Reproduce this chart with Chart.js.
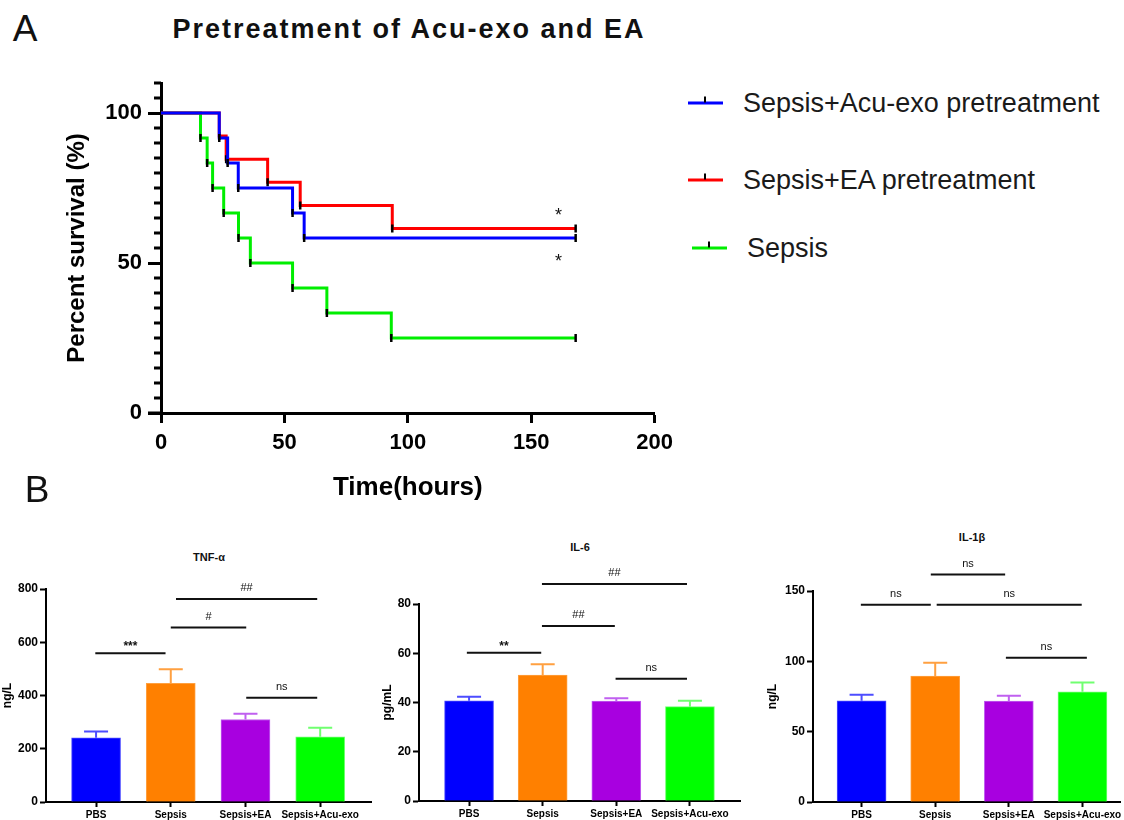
<!DOCTYPE html>
<html lang="en">
<head>
  <meta charset="UTF-8">
  <title>Pretreatment of Acu-exo and EA</title>
  <script src="https://cdn.jsdelivr.net/npm/chart.js"></script>
  <style>
    body { margin: 0; background: #fff; font-family: "Liberation Sans", Arial, sans-serif; }
    #page { position: relative; width: 1124px; height: 820px; overflow: hidden; }
    .box { position: absolute; }
    .mid { position: absolute; transform: translate(-50%, -50%); white-space: nowrap; }
    .panel { font-size: 37px; color: #111; }
    .head { font-size: 27px; letter-spacing: 2px; font-weight: bold; color: #111; }
    .sub { font-size: 11px; font-weight: bold; color: #111; }
    .leg { position: absolute; display: flex; align-items: center; font-size: 27px; color: #1a1a1a; white-space: nowrap; transform: translateY(-50%); }
    .leg .swatch { position: relative; display: inline-block; width: 35px; height: 3px; margin-right: 20px; }
    .leg .swatch::after { content: ""; position: absolute; left: 16px; top: -5px; width: 2px; height: 6px; background: #000; }
  </style>
</head>
<body>
<div id="page">
  <div class="mid panel" style="left:25px; top:29px;">A</div>
  <div class="mid head" style="left:409px; top:29px;">Pretreatment of Acu-exo and EA</div>
  <div class="box" style="left:0; top:0;"><canvas id="kmChart" width="680" height="503"></canvas></div>
  <div id="kmLegend"></div>

  <div class="mid panel" style="left:37px; top:490px;">B</div>
  <div class="mid sub" style="left:209px; top:557px;">TNF-α</div>
  <div class="mid sub" style="left:580px; top:547px;">IL-6</div>
  <div class="mid sub" style="left:972px; top:537px;">IL-1β</div>
  <div class="box" style="left:0; top:530px;"><canvas id="tnfChart" width="380" height="290"></canvas></div>
  <div class="box" style="left:380px; top:530px;"><canvas id="il6Chart" width="370" height="290"></canvas></div>
  <div class="box" style="left:750px; top:520px;"><canvas id="il1bChart" width="374" height="300"></canvas></div>
</div>

<script>
  // ---- A: survival (Kaplan-Meier) ----
  const survivalLabels = ['Sepsis+Acu-exo pretreatment', 'Sepsis+EA pretreatment', 'Sepsis'];
  const acuHours = [0, 23.6, 27.0, 31.3, 53.3, 58.0, 168];
  const acuSurvival = [100, 91.7, 83.3, 75.0, 66.7, 58.3, 58.3];
  const eaHours = [0, 23.6, 26.4, 43.2, 56.4, 93.7, 168];
  const eaSurvival = [100, 92.3, 84.6, 76.9, 69.2, 61.5, 61.5];
  const sepsisHours = [0, 16.0, 18.7, 20.9, 25.4, 31.4, 36.2, 53.3, 67.2, 93.3, 168];
  const sepsisSurvival = [100, 91.7, 83.3, 75.0, 66.7, 58.3, 50.0, 41.7, 33.3, 25.0, 25.0];
  const yMajorTicks = [0, 50, 100];
  // significance stars (hours, percent)
  const starMarks = [[161, 67.4], [161, 52.1]];

  // ---- B: cytokines ----
  const groupNames = ['PBS', 'Sepsis', 'Sepsis+EA', 'Sepsis+Acu-exo'];
  const tnfMean = [241, 446, 310, 245];
  const tnfErr = [24, 53, 21, 34];
  const il6Mean = [40.7, 51.1, 40.6, 38.3];
  const il6Err = [1.6, 4.4, 1.1, 2.4];
  const il1bMean = [71.9, 89.5, 71.7, 78.3];
  const il1bErr = [4.3, 9.5, 3.8, 6.7];
  // [from group, to group, level, label]
  const tnfBrackets = [[-0.01, 0.93, 559, '***'], [1.0, 2.01, 655, '#'], [1.07, 2.96, 762, '##'], [2.01, 2.96, 392, 'ns']];
  const il6Brackets = [[-0.03, 0.98, 60.2, '**'], [0.99, 1.98, 71.1, '##'], [0.99, 2.96, 88.1, '##'], [1.99, 2.96, 49.6, 'ns']];
  const il1bBrackets = [[-0.01, 0.94, 140.3, 'ns'], [0.94, 1.95, 161.7, 'ns'], [1.02, 2.99, 140.3, 'ns'], [1.96, 3.06, 102.5, 'ns']];

  const lineColors = ['#0000ff', '#ff0000', '#00ee00'];
  const barColors = ['#0000ff', '#ff8000', '#a800e0', '#00ff00'];
  const errColors = ['#4d4dff', '#ffa040', '#c060f0', '#70ff70'];

  Chart.defaults.font.family = '"Liberation Sans", Arial, sans-serif';
  Chart.defaults.color = '#000';

  // minor ticks, x axis stub and the stars
  const kmExtras = {
    id: 'kmExtras',
    afterDraw(chart) {
      const { ctx, scales: { x, y } } = chart;
      ctx.save();
      ctx.strokeStyle = '#000';
      ctx.lineWidth = 3;
      ctx.beginPath();
      for (let v = 5; v <= 110; v += 5) {
        if (yMajorTicks.includes(v)) continue;
        const py = y.getPixelForValue(v);
        ctx.moveTo(x.left - 7, py);
        ctx.lineTo(x.left, py);
      }
      const y0 = y.getPixelForValue(0);
      ctx.moveTo(x.left - 13, y0);
      ctx.lineTo(x.left, y0);
      ctx.stroke();
      ctx.fillStyle = '#111';
      ctx.font = '18px "Liberation Sans", Arial, sans-serif';
      ctx.textAlign = 'center';
      ctx.textBaseline = 'alphabetic';
      starMarks.forEach(([h, p]) => {
        ctx.fillText('*', x.getPixelForValue(h), y.getPixelForValue(p) + 10);
      });
      ctx.restore();
    }
  };

  const series = [
    [acuHours, acuSurvival],
    [eaHours, eaSurvival],
    [sepsisHours, sepsisSurvival]
  ];

  new Chart(document.getElementById('kmChart'), {
    type: 'line',
    data: {
      datasets: series.map(([hours, surv], k) => ({
        label: survivalLabels[k],
        data: hours.map((h, i) => ({ x: h, y: surv[i] })),
        borderColor: lineColors[k],
        borderWidth: 3,
        stepped: 'before',
        fill: false,
        pointStyle: 'line',
        rotation: 90,
        pointRadius: c => c.dataIndex === 0 ? 0 : 4,
        pointBorderColor: '#000',
        pointBorderWidth: 2.5
      }))
    },
    options: {
      responsive: false,
      animation: false,
      events: [],
      layout: { padding: { left: 63, top: 83, right: 23, bottom: 0 } },
      plugins: { legend: { display: false }, tooltip: { enabled: false } },
      scales: {
        x: {
          type: 'linear', min: 0, max: 200,
          ticks: { stepSize: 50, padding: 7, font: { size: 22, weight: 'bold' } },
          grid: { drawOnChartArea: false, tickLength: 10, tickWidth: 3, tickColor: '#000' },
          border: { color: '#000', width: 3 },
          title: { display: true, text: 'Time(hours)', padding: 0, font: { size: 26, weight: 'bold' } },
          afterFit: s => { s.height = 90; }
        },
        y: {
          min: 0, max: 110,
          afterBuildTicks: s => { s.ticks = yMajorTicks.map(v => ({ value: v })); },
          ticks: { padding: 6, font: { size: 22, weight: 'bold' } },
          grid: { drawOnChartArea: false, tickLength: 13, tickWidth: 3, tickColor: '#000' },
          border: { color: '#000', width: 3 },
          title: { display: true, text: 'Percent survival (%)', padding: 0, font: { size: 24, weight: 'bold' } },
          afterFit: s => { s.width = 98; }
        }
      }
    },
    plugins: [kmExtras]
  });

  // html legend
  const legendSpots = [[688, 103], [688, 180], [692, 248]];
  const legendBox = document.getElementById('kmLegend');
  survivalLabels.forEach((lab, k) => {
    const d = document.createElement('div');
    d.className = 'leg';
    d.style.left = legendSpots[k][0] + 'px';
    d.style.top = legendSpots[k][1] + 'px';
    d.innerHTML = '<span class="swatch" style="background:' + lineColors[k] + '"></span>' + lab;
    legendBox.appendChild(d);
  });

  // ---- bar charts ----
  const errorBars = {
    id: 'errorBars',
    afterDatasetsDraw(chart) {
      const { ctx, scales: { y } } = chart;
      const ds = chart.data.datasets[0];
      chart.getDatasetMeta(0).data.forEach((bar, i) => {
        const top = y.getPixelForValue(ds.data[i].y + ds.errors[i]);
        ctx.save();
        ctx.strokeStyle = errColors[i];
        ctx.lineWidth = 2;
        ctx.beginPath();
        ctx.moveTo(bar.x, bar.y);
        ctx.lineTo(bar.x, top);
        ctx.moveTo(bar.x - 12, top);
        ctx.lineTo(bar.x + 12, top);
        ctx.stroke();
        ctx.restore();
      });
    }
  };

  const brackets = {
    id: 'brackets',
    afterDraw(chart) {
      const { ctx, scales: { x, y } } = chart;
      ctx.save();
      ctx.strokeStyle = '#111';
      ctx.fillStyle = '#111';
      ctx.lineWidth = 2;
      ctx.textAlign = 'center';
      ctx.textBaseline = 'alphabetic';
      chart.data.datasets[0].brackets.forEach(([a, b, lvl, lab]) => {
        const x1 = x.getPixelForValue(a), x2 = x.getPixelForValue(b), py = y.getPixelForValue(lvl);
        ctx.beginPath();
        ctx.moveTo(x1, py);
        ctx.lineTo(x2, py);
        ctx.stroke();
        const star = lab.includes('*');
        ctx.font = (star ? 'bold 12px ' : '11px ') + '"Liberation Sans", Arial, sans-serif';
        ctx.fillText(lab, (x1 + x2) / 2, py - (star ? 3 : 8));
      });
      ctx.restore();
    }
  };

  function barChart(id, means, errs, marks, cfg) {
    return new Chart(document.getElementById(id), {
      type: 'bar',
      data: {
        datasets: [{
          data: means.map((v, i) => ({ x: i, y: v })),
          errors: errs,
          brackets: marks,
          backgroundColor: barColors,
          borderColor: errColors,
          borderWidth: 1,
          barThickness: 49
        }]
      },
      options: {
        responsive: false,
        animation: false,
        events: [],
        layout: { padding: cfg.pad },
        plugins: { legend: { display: false }, tooltip: { enabled: false } },
        scales: {
          x: {
            type: 'linear', min: cfg.xMin, max: cfg.xMax, offset: false,
            afterBuildTicks: s => { s.ticks = groupNames.map((g, i) => ({ value: i })); },
            ticks: { autoSkip: false, maxRotation: 0, minRotation: 0, padding: 2, font: { size: 10, weight: 'bold' }, callback: v => groupNames[v] },
            grid: { offset: false, drawOnChartArea: false, tickLength: 5, tickWidth: 2, tickColor: '#000' },
            border: { color: '#000', width: 2 },
            afterFit: s => { s.height = cfg.xH; }
          },
          y: {
            min: 0, max: cfg.yMax,
            ticks: { stepSize: cfg.step, padding: 2, font: { size: 12, weight: 'bold' } },
            grid: { drawOnChartArea: false, tickLength: 6, tickWidth: 2, tickColor: '#000' },
            border: { color: '#000', width: 2 },
            title: { display: true, text: cfg.unit, padding: 0, font: { size: 12, weight: 'bold' } },
            afterFit: s => { s.width = cfg.yW; }
          }
        }
      },
      plugins: [errorBars, brackets]
    });
  }

  barChart('tnfChart', tnfMean, tnfErr, tnfBrackets,
    { unit: 'ng/L', yMax: 800, step: 200, xMin: -0.67, xMax: 3.68, yW: 46, xH: 18, pad: { left: 0, top: 59, right: 9, bottom: 0 } });
  barChart('il6Chart', il6Mean, il6Err, il6Brackets,
    { unit: 'pg/mL', yMax: 80, step: 20, xMin: -0.68, xMax: 3.68, yW: 39, xH: 19, pad: { left: 0, top: 74, right: 10, bottom: 0 } });
  barChart('il1bChart', il1bMean, il1bErr, il1bBrackets,
    { unit: 'ng/L', yMax: 150, step: 50, xMin: -0.66, xMax: 3.51, yW: 48, xH: 18, pad: { left: 15, top: 71, right: 4, bottom: 0 } });
</script>
</body>
</html>
